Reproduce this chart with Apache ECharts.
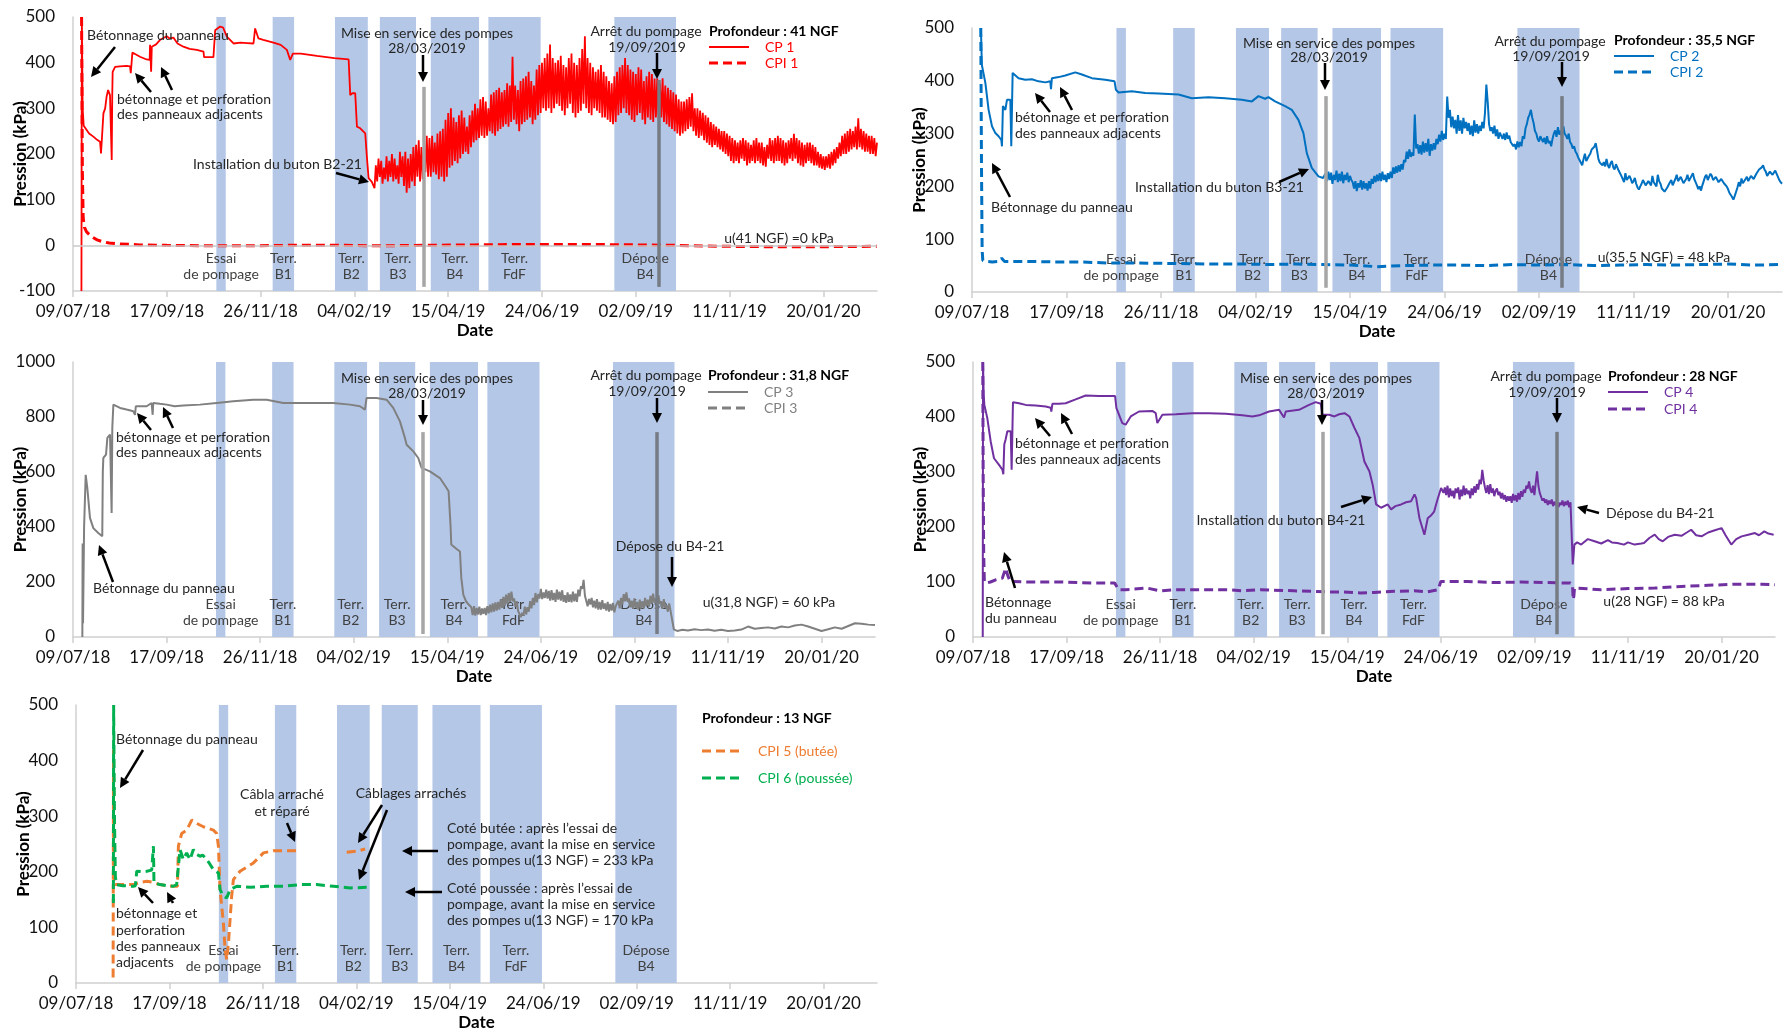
<!DOCTYPE html>
<html><head><meta charset="utf-8">
<script src="https://cdn.jsdelivr.net/npm/echarts@6/dist/echarts.min.js"></script>
<style>html,body{margin:0;padding:0;background:#fff}#c{width:1784px;height:1034px}</style>
</head><body><div id="c"></div><script>
// ---------- DATA (x = days since 09/07/18) ----------
const xTickDays = [0,70,140,210,280,350,420,490,560];
const xTickLabels = ['09/07/18','17/09/18','26/11/18','04/02/19','15/04/19','24/06/19','02/09/19','11/11/19','20/01/20'];
const bandStart = [107,149,195.5,229,267,310,404];
const bandEnd   = [114,165,220,256,303,349,450];
const bandLabels = ['Essai\nde pompage','Terr.\nB1','Terr.\nB2','Terr.\nB3','Terr.\nB4','Terr.\nFdF','Dépose\nB4'];
const pumpStartDay = 262;   // 28/03/2019
const pumpStopDay = 437;    // 19/09/2019

// CP 1 / CPI 1 (41 NGF)
const cp1Early = [[6.3,-100],[6.6,500],[7.2,300],[8,262],[9,258],[12,245],[15.2,238],[18,231],[20.2,227],[20.9,201],[21.5,230],[22.7,289],[24,300],[25.1,326],[26.2,340],[27.6,329],[28.9,187],[29.3,330],[29.6,380],[31.4,391],[35,392],[40,393],[42.6,392],[43.1,377],[43.6,395],[44.3,422],[47,418],[50,413],[55,407],[57.2,406],[57.5,439],[58.3,380],[58.8,435],[62,440],[65,450],[70,458],[72,453],[74.9,455],[78,442],[82.4,435],[87,430],[92.4,428],[97.4,424],[97.8,412],[104.8,412],[106.1,471],[109.8,479],[112,477],[114.8,457],[119.8,442],[125,444],[130,443],[134.7,442],[135.9,475],[138.4,453],[142,450],[149.6,444],[155,439],[159.6,428],[162.1,406],[164.1,420],[170,420],[182,415],[195,410],[205.7,407],[206.9,329],[208.5,333],[210.6,333],[211.9,260],[214,257],[218.1,245],[219.3,194],[220.6,147],[223,139],[225,125]];
const cp1NoisyStart = 226, cp1NoisyStep = 1;   // daily readings
const cp1Noisy = [
175,140,190,150,185,135,170,145,195,140,
185,150,200,140,190,145,175,135,205,150,
195,130,205,115,190,125,200,140,215,130,
220,150,230,140,215,145,225,160,240,150,
235,150,240,160,225,155,245,145,250,150,
255,140,275,150,290,170,300,175,280,185,
270,180,285,190,295,200,280,205,260,200,
285,215,295,225,310,230,300,235,320,240,
325,235,315,240,300,250,330,245,335,240,
340,250,345,255,335,260,340,265,355,260,
350,270,413,275,350,265,340,250,360,265,
365,270,370,275,380,280,360,265,350,275,
385,285,395,290,400,300,410,295,420,300,
440,290,410,300,400,310,405,305,415,295,
395,285,390,300,410,310,420,290,400,280,
395,290,410,295,430,310,458,300,410,290,
400,285,390,300,380,295,385,290,395,280,
380,280,370,275,360,270,355,265,370,270,
380,285,390,290,395,300,410,290,395,285,
385,275,380,270,375,285,390,290,385,275,
360,265,370,280,380,275,375,270,365,280,
365,285,355,280,366,270,350,265,345,260,
340,255,335,250,330,245,320,240,315,245,
315,250,320,255,325,260,333,250,300,240,
300,235,295,240,290,230,285,225,280,220,
270,215,265,220,260,215,255,210,250,205,
250,200,245,195,240,185,235,180,230,185,
225,180,230,190,235,185,230,175,225,180,
220,185,230,180,235,185,225,180,225,175,
215,172,220,190,235,185,230,180,235,185,
240,185,235,180,230,175,225,180,230,190,
235,185,244,190,235,180,230,175,225,172,
220,180,225,185,225,180,220,175,215,175,
205,170,200,168,195,165,195,170,200,168,
205,175,210,180,215,190,225,195,240,200,
245,200,250,205,255,210,250,215,260,210,
278,215,255,210,250,205,245,205,240,200,
240,200,235,195,225];
const cpi1 = [[6.4,500],[7,160],[7.6,60],[8.5,40],[10,30],[12,24],[15,17],[18,12],[22,8],[27,5],[35,3],[50,1],[70,0],[100,-1],[130,-1],[160,0],[200,0],[230,-1],[262,0],[300,1],[340,2],[380,2],[420,1],[450,0],[480,-2],[520,-3],[560,-3],[600,-2]];

// CP 2 / CPI 2 (35,5 NGF)
const cp2Early = [[6.6,500],[7.3,430],[7.9,427],[9.9,396],[12.3,345],[14.8,314],[17.3,301],[19.7,295],[21.7,288],[22.2,276],[22.9,352],[24.7,345],[25.9,364],[28.4,364],[29.1,276],[30.1,415],[34.5,405],[39.5,402],[44.4,403],[49.3,399],[54.3,397],[58,399],[58.5,384],[59.2,405],[64.2,407],[69.1,410],[76.5,416],[81.4,412],[88.8,405],[98.7,402],[105.6,399],[106.6,383],[108.6,378],[118.4,380],[128.3,377],[138.2,376],[153,374],[162.8,367],[175.2,369],[187.5,367],[199.9,364],[207.3,361],[212.2,371],[217.1,366],[219.6,369],[224.5,361],[231.9,352],[236.9,345],[241.8,326],[245.5,301],[248,263],[251.7,235],[256.6,219],[260,216]];
const cp2NoisyStart = 262, cp2NoisyStep = 1;
const cp2Noisy = [
225,210,228,212,226,205,222,212,230,208,
224,210,228,206,222,212,226,208,220,212,
208,196,210,191,206,198,212,194,210,196,
206,192,210,196,214,205,220,208,222,210,
225,210,228,212,222,208,225,214,228,216,
236,224,238,226,240,228,242,232,250,246,
266,252,270,256,264,258,336,272,280,262,
278,260,285,264,282,266,290,258,280,268,
282,270,290,280,298,285,305,288,300,290,
370,330,345,312,332,310,326,300,335,305,
325,300,330,310,322,305,320,298,315,295,
325,302,318,300,315,305,322,310,340,393,
360,318,305,312,300,315,295,308,290,302,
305,290,300,288,302,290,296,284,286,276,
280,270,285,274,284,276,295,290,310,318,
330,336,345,330,320,305,300,290,285,295,
298,284,292,280,295,282,286,276,290,300,
306,294,312,298,305,295,314,300,296,290,
300,284,280,272,276,266,262,255,250,248,
240,252,262,248,250,258,262,270,268,275,
282,268,252,245,248,240,246,238,252,240,
235,244,248,236,232,242,245,230,225,220,
218,208,225,212,212,220,214,206,210,216,
205,198,194,200,205,212,215,202,200,210,
212,202,220,208,210,200,222,210,205,196,
195,190,188,198,200,208,212,202,205,214,
222,210,210,218,215,206,205,214,222,210,
212,220,225,214,208,202,195,200,192,202,
210,218,222,212,215,224,220,212,210,218,
218,208,205,214,215,206,208,200,195,188,
185,180,175,182,190,198,208,200,215,206,
205,214,218,210,210,220,222,214,215,224,
225,232,230,236,240,232,228,220,220,228,
230,222,222,230,228,218,212,208,205];
const cpi2 = [[6.5,500],[7,250],[7.5,80],[8,60],[10,58],[15,57],[20,58],[22,64],[24,58],[40,58],[60,57],[80,57],[100,55],[120,55],[150,54],[180,53],[200,53],[220,52],[240,53],[260,52],[280,51],[300,48],[320,50],[340,51],[360,51],[380,50],[400,52],[420,51],[440,52],[460,50],[480,51],[500,52],[520,51],[540,52],[560,53],[580,51],[600,52]];

// CP 3 (31,8 NGF)
const cp3Early = [[7,0],[7.2,340],[7.5,50],[8.3,400],[9.5,590],[10.7,542],[12.7,433],[15.2,396],[18.9,378],[21.9,366],[22.3,600],[22.7,651],[24.7,663],[25.7,724],[27.7,736],[28.9,451],[29.4,760],[30.2,845],[31.4,851],[35.2,833],[40.1,827],[45.1,821],[46.4,808],[47,839],[55.1,839],[58.8,851],[59.6,808],[60,851],[65,848],[70.1,845],[76,839],[82.5,842],[95,845],[107.5,851],[119.9,857],[134.9,863],[144.9,863],[157.3,851],[169.8,851],[194.7,851],[207.2,845],[214.7,839],[218.4,827],[219.6,869],[227.1,869],[234.6,863],[239.6,833],[244.6,784],[248.3,724],[249.6,699],[254.6,675],[258.3,651],[260.8,615],[262,610],[267,602],[274.5,578],[279.5,542],[281,530],[282.5,400],[283,336],[287,320],[289.5,311],[290.5,215],[292,154],[294,130],[296,118]];
const cp3NoisyStart = 298, cp3NoisyStep = 1;
const cp3Noisy = [
108,80,112,78,106,82,110,80,104,84,
106,80,112,86,118,90,122,92,126,96,
128,100,138,106,146,112,154,120,160,128,
165,130,140,110,130,95,102,72,88,78,
110,82,108,92,130,104,142,116,160,126,
156,140,175,138,162,142,172,140,168,132,
170,134,160,128,172,136,165,132,170,128,
152,124,162,128,155,126,165,130,158,128,
172,148,185,175,208,150,145,112,138,118,
142,108,132,104,138,100,128,100,134,102,
122,96,128,92,120,96,124,90,112,108,
132,104,142,118,156,130,162,128,140,108,
132,102,140,106,128,100,136,104,130,104,
142,112,136,110,150,122,158,124,140,116,
152,120,130,102,138,106,116,92,122,96,
95];
const cp3Late = [[449.5,28],[452,22],[456,26],[460,24],[465,28],[470,25],[475,27],[480,23],[485,26],[490,22],[495,24],[500,27],[505,38],[510,30],[515,33],[520,35],[525,31],[530,38],[535,35],[540,42],[545,45],[550,38],[555,30],[560,22],[565,28],[570,35],[575,30],[580,40],[585,50],[590,48],[595,45],[600,44]];

// CP 4 / CPI 4 (28 NGF)
const cp4Early = [[7.3,0],[7.5,500],[8,440],[8.5,422],[10.7,398],[13.2,356],[15.7,325],[19.5,313],[22,304],[22.7,296],[23.4,350],[24.4,359],[25.7,374],[28.2,374],[28.9,304],[29.9,427],[34.4,425],[39.4,422],[46.9,421],[54.4,419],[58.1,417],[58.6,410],[59.4,424],[64.4,424],[69.3,425],[76.8,432],[84.3,439],[94.3,438],[104.3,438],[106.3,438],[107.3,416],[111.7,389],[114.2,386],[118,401],[124.2,410],[134.2,411],[136.7,407],[137.9,389],[139.2,392],[141.7,404],[151.7,405],[164.1,407],[176.6,407],[189.1,406],[201.5,403],[209,401],[214,403],[221.5,410],[229,413],[232.7,399],[234,410],[243.9,413],[251.4,422],[256.4,427],[260.2,424],[261.4,404],[266.4,404],[270.4,401],[273.9,405],[278,407],[281.6,401],[285.4,380],[289,362],[292.8,319],[296.6,301],[299,277],[301.6,241],[305.3,235],[310.3,241],[312.8,232],[316,238],[320.3,241],[324,245],[327.8,247],[330.3,259],[331.5,253],[334,216],[337.7,186],[340.2,216],[343,222],[345,228],[347.5,250],[350.2,271]];
const cp4NoisyStart = 352, cp4NoisyStep = 1;
const cp4Noisy = [
262,272,258,275,254,270,256,266,252,270,
262,272,250,268,256,275,258,270,260,266,
252,270,258,274,262,278,268,286,278,304,
285,272,262,276,260,278,262,270,256,266,
270,258,264,252,262,250,258,246,256,248,
256,244,260,248,258,246,262,250,265,255,
268,262,275,270,283,268,262,275,258,280,
301,275,262,255,248,252,244,250,240,248,
242,250,238,246,240,245,236,244,240,248,
238,246,240,248,236,245,242];
const cp4Late = [[448.7,132],[449.9,168],[452,172],[455,168],[460,178],[465,174],[470,170],[475,176],[478,172],[482,171],[487,168],[490,172],[495,168],[500,170],[502,171],[506,180],[510,186],[513,178],[516,174],[520,182],[525,186],[530,184],[534,190],[537.3,195],[541,185],[545,183],[550,190],[555,194],[560,198],[563,185],[567.3,168],[571,178],[575,183],[580,186],[585,189],[588,185],[592,192],[595,188],[599,186]];
const cpi4 = [[7.3,500],[7.6,300],[8,150],[8.5,100],[10,98],[13,100],[17,104],[22,107],[24.4,125],[26,112],[28,100],[30,101],[40,100],[65,100],[90,98],[106,98],[109,86],[114,86],[130,89],[140,84],[152,86],[190,86],[202,84],[215,86],[240,84],[265,82],[275,82],[290,80],[300,81],[315,83],[330,84],[340,82],[348,86],[350,101],[370,101],[390,99],[410,100],[430,99],[447,98],[448.5,95],[449,68],[449.5,74],[450,89],[470,86],[490,88],[510,89],[530,92],[550,94],[570,96],[590,96],[600,95]];

// CPI 5 / CPI 6 (13 NGF)
const cpi5 = [[27.8,10],[28.1,420],[28.6,177],[35,177],[43,177],[48,181],[53,183],[58,181],[63,177],[68,175],[73,174],[76,174],[76.7,246],[79.2,269],[82.9,275],[86.7,293],[90.4,287],[95.4,281],[102.9,275],[105.4,269],[106.7,246],[107.9,168],[110.4,108],[111.7,60],[112.9,42],[114.2,72],[116.6,156],[117.9,186],[122.9,201],[132.9,216],[140.4,234],[147.9,238],[155.4,238],[164.9,238],[165,null],[202.8,235],[210.3,237],[216.6,241]];
const cpi6 = [[28,144],[28.2,500],[28.8,300],[29.5,190],[30.5,177],[35,175],[43,174],[44.5,175],[45.5,201],[50,200],[53,201],[56.7,203],[57.5,205],[58,246],[58.4,180],[63,177],[68,175],[73,174],[75.4,177],[77.9,240],[80.4,222],[82.9,234],[85.4,222],[87.9,240],[90,232],[92.9,228],[95,230],[97.9,222],[100,215],[102.9,204],[106.7,198],[107.9,168],[110.4,156],[112.9,153],[115.4,168],[120.4,174],[130.4,172],[142.9,174],[155.4,174],[167.9,177],[180.3,177],[192.8,174],[205.3,171],[217.8,172]];

// ---------- BUILD ----------
function join(early, start, step, vals, late){
  const out = early.slice();
  vals.forEach((v,i)=>out.push([start+i*step, v]));
  return late ? out.concat(late) : out;
}
const FONT = 'Lato, "Noto Sans", sans-serif';
const TXT = '#262626';
const BAND = '#B4C7E7';

const grids = [
  {left:73, top:17, width:804, height:274},
  {left:972, top:28, width:810, height:264},
  {left:73, top:362, width:802, height:275},
  {left:973, top:362, width:802, height:275},
  {left:76, top:705, width:801, height:278}
];
const yRanges = [[-100,500,100],[0,500,100],[0,1000,200],[0,500,100],[0,500,100]];
const eventBars = [[-91,347,362],[8,371,371],[11,745,745],[5,373,373],null];

const xAxes = grids.map((g,i)=>({
  type:'value', gridIndex:i, min:0, max:600,
  name:'Date', nameLocation:'middle', nameGap:31, nameMoveOverlap:false,
  nameTextStyle:{fontSize:17, fontWeight:'bold', color:'#000', fontFamily:FONT},
  axisLine:{onZero:false, lineStyle:{color:'#D0D0D0', width:1.5}},
  axisTick:{show:true, length:6, lineStyle:{color:'#D0D0D0', width:1.5}, customValues:xTickDays},
  axisLabel:{customValues:xTickDays, fontSize:17, color:'#111', margin:12, fontFamily:FONT,
    formatter:v=>{const k=xTickDays.indexOf(Math.round(v)); return k>=0?xTickLabels[k]:'';}},
  splitLine:{show:false}
}));
const yAxes = grids.map((g,i)=>({
  type:'value', gridIndex:i, min:yRanges[i][0], max:yRanges[i][1], interval:yRanges[i][2],
  name:'Pression (kPa)', nameLocation:'middle', nameGap:44, nameMoveOverlap:false,
  nameTextStyle:{fontSize:17, fontWeight:'bold', color:'#000', fontFamily:FONT},
  axisLine:{show:true, lineStyle:{color:'#D0D0D0', width:1.5}},
  axisTick:{show:false},
  axisLabel:{fontSize:17, color:'#111', margin:18, fontFamily:FONT, formatter:v=>String(v)},
  splitLine:{show:false}
}));

const series = [];
grids.forEach((g,i)=>{
  const bandData = bandStart.map((s,k)=>[{xAxis:s, name:bandLabels[k]},{xAxis:bandEnd[k]}]);
  const b = {type:'line', name:'_bands'+i, xAxisIndex:i, yAxisIndex:i, data:[], z:1, silent:true,
    markArea:{silent:true, itemStyle:{color:BAND}, label:{show:true, position:'insideBottom', distance:9,
      color:'#404040', fontSize:14, lineHeight:16, fontFamily:FONT}, data:bandData}};
  if(i===0){
    b.markLine = {silent:true, symbol:'none', label:{show:false}, lineStyle:{color:'#C8C8C8', width:1.5, type:'solid'}, data:[{yAxis:0}]};
  }
  series.push(b);
  const e = eventBars[i];
  if(e){
    series.push({type:'line', name:'_events'+i, xAxisIndex:i, yAxisIndex:i, data:[], z:6, silent:true,
      markLine:{silent:true, symbol:'none', label:{show:false}, data:[
        [{coord:[pumpStartDay,e[0]], lineStyle:{color:'#A6A6A6', width:3.5, type:'solid'}},{coord:[pumpStartDay,e[1]]}],
        [{coord:[pumpStopDay,e[0]], lineStyle:{color:'#767B84', width:3.5, type:'solid'}},{coord:[pumpStopDay,e[2]]}]
      ]}});
  }
});
function line(name, idx, data, color, dashed, width){
  series.push({type:'line', name, xAxisIndex:idx, yAxisIndex:idx, data, showSymbol:false, symbol:'none',
    connectNulls:false, z:3, animation:false,
    lineStyle:{color, width:width, type: dashed ? [9,5] : 'solid'}, itemStyle:{color}});
}
line('CP 1', 0, join(cp1Early, cp1NoisyStart, cp1NoisyStep, cp1Noisy), '#FF0000', false, 1.8);
line('CPI 1', 0, cpi1, '#FF0000', true, 3);
line('CP 2', 1, join(cp2Early, cp2NoisyStart, cp2NoisyStep, cp2Noisy), '#0070C0', false, 2);
line('CPI 2', 1, cpi2, '#0070C0', true, 3);
line('CP 3', 2, join(cp3Early, cp3NoisyStart, cp3NoisyStep, cp3Noisy, cp3Late), '#808080', false, 2);
line('CP 4', 3, join(cp4Early, cp4NoisyStart, cp4NoisyStep, cp4Noisy, cp4Late), '#7030A0', false, 2);
line('CPI 4', 3, cpi4, '#7030A0', true, 3);
line('CPI 5 (butée)', 4, cpi5, '#ED7D31', true, 3);
line('CPI 6 (poussée)', 4, cpi6, '#00B050', true, 3);

// ---------- ANNOTATIONS & LEGENDS (pixel positions) ----------
const G = [];
function T(x,y,text,align){
  G.push({type:'text', x, y, z:100, style:{text, fill:TXT, align:align||'left', verticalAlign:'middle', font:'14px '+FONT}});
}
function TB(x,y,text){ G.push({type:'text', x, y, z:100, style:{text, fill:'#000', align:'left', verticalAlign:'middle', font:'bold 14px '+FONT}}); }
function A(x1,y1,x2,y2){
  const dx=x2-x1, dy=y2-y1, L=Math.hypot(dx,dy), ux=dx/L, uy=dy/L, hl=10, hw=5;
  const bx=x2-ux*hl, by=y2-uy*hl;
  G.push({type:'line', z:100, shape:{x1,y1,x2:bx,y2:by}, style:{stroke:'#000', lineWidth:2.5}});
  G.push({type:'polygon', z:100, shape:{points:[[x2,y2],[bx-uy*hw,by+ux*hw],[bx+uy*hw,by-ux*hw]]}, style:{fill:'#000'}});
}
function LG(x,y,label,color,dashed){
  G.push({type:'line', z:100, shape:{x1:x,y1:y,x2:x+40,y2:y}, style:{stroke:color, lineWidth:dashed?3:2, lineDash:dashed?[9,5]:null}});
  G.push({type:'text', x:x+56, y, z:100, style:{text:label, fill:color, align:'left', verticalAlign:'middle', font:'14px '+FONT}});
}
// Panel 1
T(87,35,'Bétonnage du panneau'); A(115,47,91,77);
T(117,99,'bétonnage et perforation'); T(117,114,'des panneaux adjacents');
A(151,92,135,73); A(172,90,161,67);
T(193,164,'Installation du buton B2-21'); A(336,173,369,182);
T(427,33,'Mise en service des pompes','center'); T(427,48,'28/03/2019','center'); A(423,55,423,82);
T(646,31,'Arrêt du pompage','center'); T(647,47,'19/09/2019','center'); A(657,53,657,79);
TB(709,31,'Profondeur : 41 NGF');
LG(709,47,'CP 1','#FF0000',false); LG(709,63,'CPI 1','#FF0000',true);
T(779,238,'u(41 NGF) =0 kPa','center');
// Panel 2
T(1015,117,'bétonnage et perforation'); T(1015,133,'des panneaux adjacents');
A(1050,112,1035,93); A(1072,110,1060,87);
T(991,207,'Bétonnage du panneau'); A(1010,197,992,163);
T(1135,187,'Installation du buton B3-21'); A(1279,182,1309,169);
T(1329,43,'Mise en service des pompes','center'); T(1329,57,'28/03/2019','center'); A(1325,63,1325,90);
T(1550,41,'Arrêt du pompage','center'); T(1551,56,'19/09/2019','center'); A(1562,62,1562,87);
TB(1614,40,'Profondeur : 35,5 NGF');
LG(1614,56,'CP 2','#0070C0',false); LG(1614,72,'CPI 2','#0070C0',true);
T(1664,257,'u(35,5 NGF) = 48 kPa','center');
// Panel 3
T(116,437,'bétonnage et perforation'); T(116,452,'des panneaux adjacents');
A(151,430,137,413); A(173,428,163,407);
T(93,588,'Bétonnage du panneau'); A(113,582,99,545);
T(427,378,'Mise en service des pompes','center'); T(427,393,'28/03/2019','center'); A(423,400,423,425);
T(646,375,'Arrêt du pompage','center'); T(647,391,'19/09/2019','center'); A(657,398,657,423);
T(670,546,'Dépose du B4-21','center'); A(672,557,672,587);
TB(708,375,'Profondeur : 31,8 NGF');
LG(708,392,'CP 3','#808080',false); LG(708,408,'CPI 3','#808080',true);
T(769,602,'u(31,8 NGF) = 60 kPa','center');
// Panel 4
T(1015,443,'bétonnage et perforation'); T(1015,459,'des panneaux adjacents');
A(1050,436,1035,418); A(1072,434,1061,413);
T(985,602,'Bétonnage'); T(985,618,'du panneau'); A(1015,588,1004,552);
T(1281,520,'Installation du buton B4-21','center'); A(1341,507,1372,497);
T(1326,378,'Mise en service des pompes','center'); T(1326,393,'28/03/2019','center'); A(1322,400,1322,425);
T(1546,376,'Arrêt du pompage','center'); T(1547,392,'19/09/2019','center'); A(1557,398,1557,423);
T(1606,513,'Dépose du B4-21'); A(1599,513,1577,507);
TB(1608,376,'Profondeur : 28 NGF');
LG(1608,392,'CP 4','#7030A0',false); LG(1608,409,'CPI 4','#7030A0',true);
T(1664,601,'u(28 NGF) = 88 kPa','center');
// Panel 5
T(116,739,'Bétonnage du panneau'); A(143,750,120,788);
T(116,913,'bétonnage et'); T(116,930,'perforation'); T(116,946,'des panneaux'); T(116,962,'adjacents');
A(153,903,138,887); A(173,903,167,892);
T(282,794,'Câbla arraché','center'); T(282,811,'et réparé','center'); A(287,823,295,842);
T(411,793,'Câblages arrachés','center'); A(382,805,358,843); A(387,810,359,880);
A(438,851,402,851); A(442,892,405,892);
T(447,828,'Coté butée : après l’essai de'); T(447,844,'pompage, avant la mise en service'); T(447,860,'des pompes u(13 NGF) = 233 kPa');
T(447,888,'Coté poussée : après l’essai de'); T(447,904,'pompage, avant la mise en service'); T(447,920,'des pompes u(13 NGF) = 170 kPa');
TB(702,718,'Profondeur : 13 NGF');
LG(702,751,'CPI 5 (butée)','#ED7D31',true); LG(702,778,'CPI 6 (poussée)','#00B050',true);

const chart = echarts.init(document.getElementById('c'), null, {renderer:'canvas'});
chart.setOption({
  animation:false,
  backgroundColor:'#fff',
  textStyle:{fontFamily:FONT},
  grid: grids.map(g=>Object.assign({outerBoundsMode:'none', containLabel:false}, g)),
  xAxis:xAxes, yAxis:yAxes, series, graphic:{elements:G}
});
</script></body></html>
